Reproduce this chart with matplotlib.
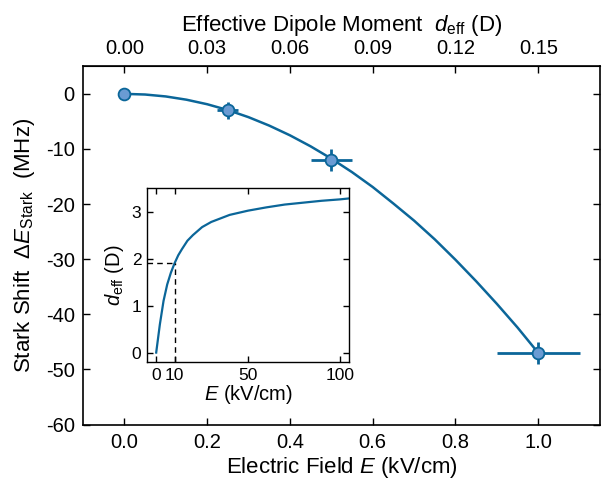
import numpy as np
import matplotlib
matplotlib.use('Agg')
import matplotlib.pyplot as plt

plt.rcParams['font.family'] = ['Liberation Sans', 'DejaVu Sans']
plt.rcParams['mathtext.fontset'] = 'custom'
plt.rcParams['mathtext.rm'] = 'Liberation Sans'
plt.rcParams['mathtext.it'] = 'Liberation Sans:italic'
plt.rcParams['axes.unicode_minus'] = False

# measured Stark shift
field = [0.0, 0.25, 0.5, 1.0]
shift = [0.0, -3.0, -12.0, -47.0]
field_err = [0.0, 0.025, 0.05, 0.1]
shift_err = [0.0, 1.6, 2.0, 2.0]

# fit curve
fit_E = [0.0, 0.05, 0.1, 0.15, 0.2, 0.25, 0.3, 0.35, 0.4, 0.45, 0.5,
         0.55, 0.6, 0.65, 0.7, 0.75, 0.8, 0.85, 0.9, 0.95, 1.0]
fit_shift = [0.0, -0.12, -0.47, -1.06, -1.88, -2.94, -4.23, -5.76, -7.52, -9.52, -11.75,
             -14.2, -16.9, -19.9, -23.0, -26.4, -30.1, -34.0, -38.1, -42.4, -47.0]

# inset: effective dipole moment vs field
inset_E = [0, 2, 4, 6, 8, 10, 12, 14, 17, 20, 25, 30, 40, 50, 60, 70, 80, 90, 100, 105]
inset_d = [0.0, 0.6, 1.1, 1.45, 1.7, 1.9, 2.07, 2.2, 2.38, 2.5, 2.67, 2.78, 2.93, 3.02,
           3.09, 3.15, 3.19, 3.23, 3.26, 3.28]

line_col = '#0b6699'
face_col = '#6a9bd3'

fig = plt.figure(figsize=(6.03, 4.79), dpi=100)
ax = fig.add_axes([0.1376, 0.1136, 0.858, 0.748])

ax.plot(fit_E, fit_shift, color=line_col, lw=1.8, zorder=2)
ax.errorbar(field, shift, xerr=field_err, yerr=shift_err, fmt='o', color=line_col,
            mfc=face_col, mec=line_col, mew=1.3, ms=8.5, elinewidth=2, capsize=0, zorder=3)

ax.set_xlim(-0.1, 1.15)
ax.set_ylim(-60, 5)
ax.set_xticks([0.0, 0.2, 0.4, 0.6, 0.8, 1.0])
ax.set_yticks([0, -10, -20, -30, -40, -50, -60])
ax.xaxis.set_major_formatter(matplotlib.ticker.FormatStrFormatter('%.1f'))
ax.tick_params(direction='in', length=5, width=1, labelsize=14.5, right=True, pad=6)
for s in ax.spines.values():
    s.set_linewidth(1.2)
ax.set_xlabel('Electric Field $E$ (kV/cm)', fontsize=16, labelpad=2)
ax.set_ylabel('Stark Shift  $\\Delta E_\\mathrm{Stark}$  (MHz)', fontsize=16, labelpad=6)

top = ax.secondary_xaxis('top', functions=(lambda x: x * 0.15, lambda x: x / 0.15))
top.set_xticks([0.0, 0.03, 0.06, 0.09, 0.12, 0.15])
top.xaxis.set_major_formatter(matplotlib.ticker.FormatStrFormatter('%.2f'))
top.tick_params(direction='in', length=5, width=1, labelsize=14.5, pad=6)
top.set_xlabel('Effective Dipole Moment  $d_\\mathrm{eff}$ (D)', fontsize=16, labelpad=6)

ins = fig.add_axes([0.2438, 0.2443, 0.335, 0.363])
ins.plot(inset_E, inset_d, color=line_col, lw=1.6)
ins.plot([-5, 10], [1.9, 1.9], ls=(0, (4, 3)), color='black', lw=1)
ins.plot([10, 10], [-0.2, 1.9], ls=(0, (4, 3)), color='black', lw=1)
ins.set_xlim(-5, 105)
ins.set_ylim(-0.2, 3.5)
ins.set_xticks([0, 10, 50, 100])
ins.set_yticks([0, 1, 2, 3])
ins.tick_params(direction='in', length=4, width=1, labelsize=12.5, top=True, right=True, pad=4)
for s in ins.spines.values():
    s.set_linewidth(1.0)
ins.set_xlabel('$E$ (kV/cm)', fontsize=14.5, labelpad=0)
ins.set_ylabel('$d_\\mathrm{eff}$ (D)', fontsize=14.5, labelpad=4)

fig.savefig('out.png', dpi=100)
